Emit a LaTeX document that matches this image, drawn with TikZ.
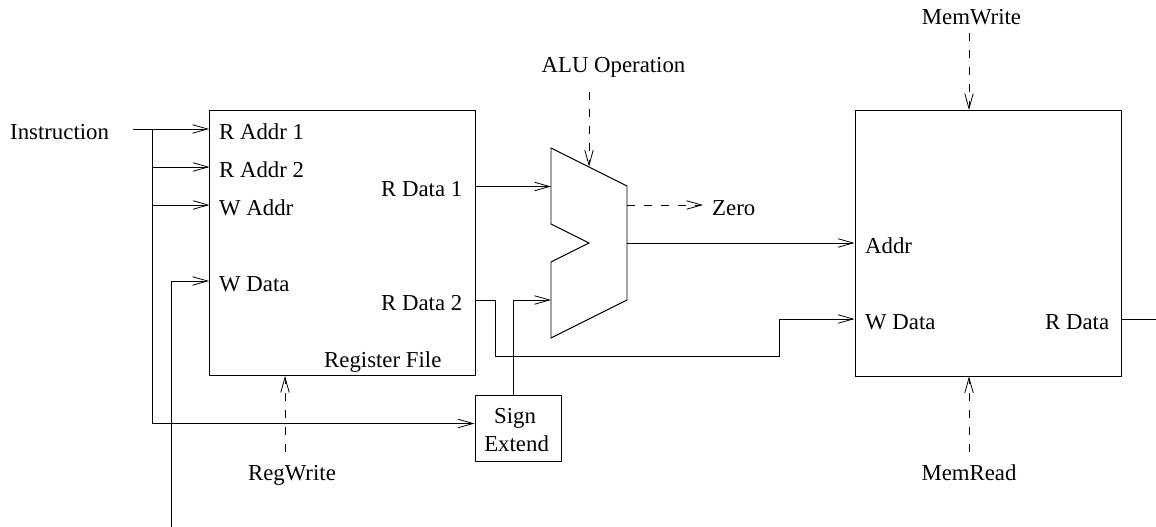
\documentclass[tikz,border=0pt]{standalone}
\usepackage{fontspec}
\setmainfont{Liberation Serif}
\usetikzlibrary{arrows.meta}
\tikzset{
  wire/.style={draw=black,line width=0.95pt},
  arr/.style={wire,-{Straight Barb[length=15pt,width=8.5pt,line width=0.8pt]}},
  ctl/.style={arr,dash pattern=on 8pt off 9pt},
  blockbox/.style={draw=black,line width=0.95pt,rectangle,inner sep=0pt},
  lab/.style={anchor=base west,inner sep=0pt,font=\fontsize{22.8}{22.8}\selectfont},
  labc/.style={anchor=base,inner sep=0pt,font=\fontsize{22.8}{22.8}\selectfont},
}
\begin{document}
\begin{tikzpicture}[x=1pt,y=-1pt]
\useasboundingbox (0,0) rectangle (1156,527);
% blocks
\node[blockbox,minimum width=265.5pt,minimum height=265pt] (reg) at (342.25,243) {};
\node[blockbox,minimum width=266pt,minimum height=265.5pt] (mem) at (988,243.25) {};
\node[blockbox,minimum width=86pt,minimum height=66pt] (sign) at (518,428) {};
\node[labc] (tsign) at (515,423) {Sign};
\node[labc] (text) at (516.6,451.7) {Extend};
% ALU
\coordinate (a1) at (551,148);
\coordinate (a2) at (627,186);
\coordinate (a3) at (627,300);
\coordinate (a4) at (551,338);
\coordinate (a5) at (551,262);
\coordinate (a6) at (589,243);
\coordinate (a7) at (551,224);
\draw[wire,line join=miter] (a1) -- (a2) -- (a3) -- (a4) -- (a5) -- (a6) -- (a7) -- cycle;
% labels
\node[lab] (tinstr) at (10,139) {Instruction};
\node[lab] (tra1) at (219,139) {R Addr 1};
\node[lab] (tra2) at (219,177) {R Addr 2};
\node[lab] (twa) at (219,215) {W Addr};
\node[lab] (twd) at (219,291) {W Data};
\node[lab] (trd1) at (381,196.5) {R Data 1};
\node[lab] (trd2) at (381,310) {R Data 2};
\node[lab] (trf) at (324,367) {Register File};
\node[labc] (treg) at (292,480) {RegWrite};
\node[labc] (talu) at (613.5,73) {ALU Operation};
\node[lab] (tzero) at (712,215) {Zero};
\node[labc] (tmw) at (971.5,25) {MemWrite};
\node[labc] (tmr) at (969,480) {MemRead};
\node[lab] (taddr) at (865,253) {Addr};
\node[lab] (tmwd) at (865,329) {W Data};
\node[lab] (tmrd) at (1045,329) {R Data};
% free ends and bends
\coordinate (in) at (133,129);
\coordinate (bus) at (152.5,129);
\coordinate (wdtail) at (171.5,527);
\coordinate (wdturn) at (171.5,281);
\coordinate (rf1) at (209.5,167);
\coordinate (rf2) at (209.5,205);
\coordinate (rd1) at (475,186.5);
\coordinate (rd2) at (475,300);
\coordinate (rd2a) at (495,300);
\coordinate (rd2b) at (495,356.5);
\coordinate (rd2c) at (779,356.5);
\coordinate (rd2d) at (779,319);
\coordinate (sgup) at (513,300);
\coordinate (aluout) at (627,243);
\coordinate (zeroa) at (627,205);
\coordinate (zerob) at (703,205);
\coordinate (rout) at (1156,319);
\coordinate (regctl) at (285,452);
\coordinate (aluctl) at (589,92);
\coordinate (mwctl) at (969,33);
\coordinate (mrctl) at (969,452);
% instruction bus
\draw[arr] (in) -- (in -| reg.west);
\draw[arr] (bus) |- (sign.west |- 0,423.5);
\draw[arr] (bus |- rf1) -- (rf1);
\draw[arr] (bus |- rf2) -- (rf2);
% write data
\draw[arr] (wdtail) -- (wdturn) -- (wdturn -| reg.west);
% ALU inputs
\draw[arr] (rd1) -- (rd1 -| a1);
\draw[arr] (sign.north -| sgup) -- (sgup) -- (sgup -| a1);
\draw[wire] (rd2) -- (rd2a) -- (rd2b) -- (rd2c) -- (rd2d);
\draw[arr] (rd2d) -- (rd2d -| mem.west);
% ALU outputs
\draw[arr] (aluout) -- (aluout -| mem.west);
\draw[ctl] (zeroa) -- (zerob);
\draw[wire] (mem.east |- rout) -- (rout);
% control
\draw[ctl] (aluctl) -- (589,166.5);
\draw[ctl] (mwctl) -- (mwctl |- mem.north);
\draw[ctl] (mrctl) -- (mrctl |- mem.south);
\draw[ctl] (regctl) -- (regctl |- reg.south);
\end{tikzpicture}
\end{document}
